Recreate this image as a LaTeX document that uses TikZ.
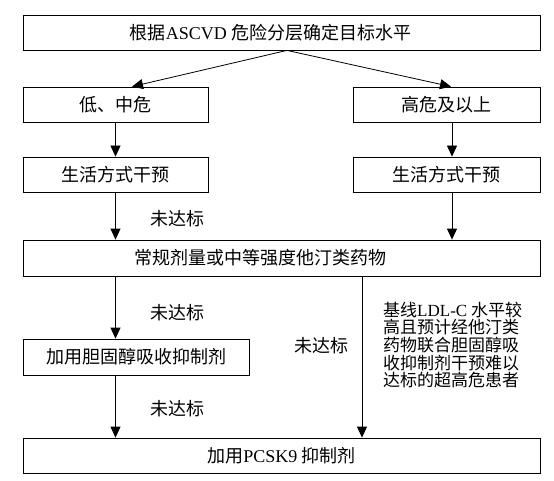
\documentclass[tikz,border=0pt]{standalone}
\usepackage{fontspec}
\setmainfont{Liberation Serif}
\newfontfamily\cjk{Noto Sans CJK SC}
\usetikzlibrary{arrows.meta,positioning}

\begin{document}
\begin{tikzpicture}[x=1pt,y=-1pt,on grid,
  box/.style={draw,line width=0.8pt,inner sep=0pt,minimum height=35pt,font=\fontsize{18pt}{17pt}\selectfont\cjk},
  pad/.style={execute at end node={\hspace*{#1}}},
  flow/.style={line width=0.8pt,-{Triangle[width=10pt,length=11pt]}},
  note/.style={inner sep=0pt,font=\fontsize{18pt}{17pt}\selectfont\cjk}]
  \useasboundingbox (0,0) rectangle (554,481);
  % boxes
  \node[box,minimum width=517pt,pad=22pt] (goal) at (281.5,32.5) {根据\textrm{ASCVD} 危险分层确定目标水平};
  \node[box,minimum width=185pt] (low) at (115.5,104.5) {低、中危};
  \node[box,minimum width=187pt] (high) at (446.5,104.5) {高危及以上};
  \node[box,minimum width=185pt,below=70pt of low] (life1) {生活方式干预};
  \node[box,minimum width=187pt,below=70pt of high] (life2) {生活方式干预};
  \node[box,minimum width=517pt,minimum height=36pt,pad=42pt] (statin) at (281.5,258) {常规剂量或中等强度他汀类药物};
  \node[box,minimum width=226pt,minimum height=36pt] (ezet) at (136,357) {加用胆固醇吸收抑制剂};
  \node[box,minimum width=517pt] (pcsk) at (281.5,455.5) {加用\textrm{PCSK9} 抑制剂};
  \coordinate (rx) at (362,0);
  % labels
  \node[note] (n1) at (177,219) {未达标};
  \node[note] (n2) at (177,313) {未达标};
  \node[note] (n3) at (177,409) {未达标};
  \node[note] (n4) at (321,346) {未达标};
  \node[note,anchor=west,align=left,font=\fontsize{17pt}{17.6pt}\selectfont\cjk] (cond) at (383,345) {基线\textrm{LDL-C} 水平较\\高且预计经他汀类\\药物联合胆固醇吸\\收抑制剂干预难以\\达标的超高危患者};
  % arrows
  \draw[flow] ([xshift=5.5pt]goal.south) -- ([xshift=16.5pt]low.north);
  \draw[flow] ([xshift=5.5pt]goal.south) -- ([xshift=4.5pt]high.north);
  \draw[flow] (low) -- (life1);
  \draw[flow] ([xshift=5.5pt]high.south) -- ([xshift=5.5pt]life2.north);
  \draw[flow] (life1.south) -- (life1.south |- statin.north);
  \draw[flow] ([xshift=5.5pt]life2.south) -- ([xshift=5.5pt]life2.south |- statin.north);
  \draw[flow] (life1.south |- statin.south) -- (life1.south |- ezet.north);
  \draw[flow] (life1.south |- ezet.south) -- (life1.south |- pcsk.north);
  \draw[flow] (statin.south -| rx) -- (pcsk.north -| rx);
\end{tikzpicture}
\end{document}
